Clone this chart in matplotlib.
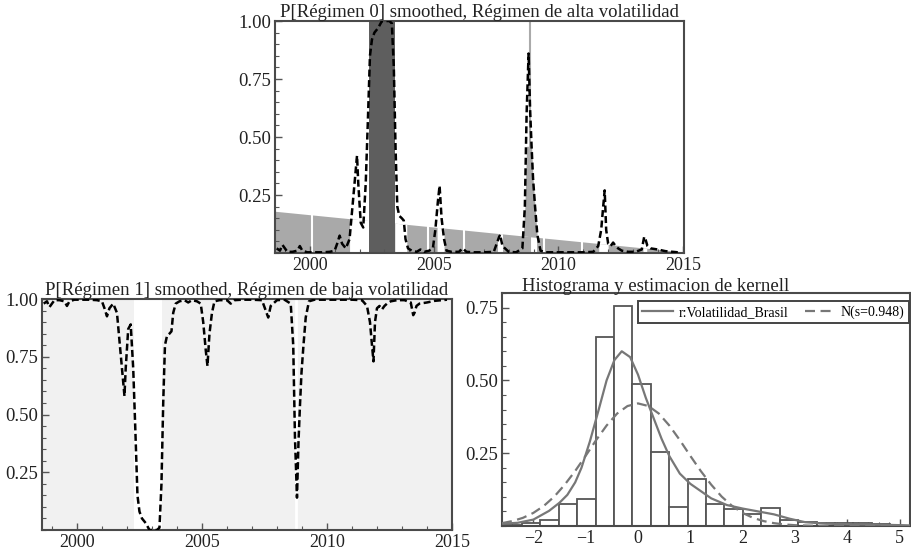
import numpy as np
import matplotlib
matplotlib.use("Agg")
import matplotlib.pyplot as plt
from matplotlib.ticker import MultipleLocator, FixedLocator, FormatStrFormatter
from matplotlib.lines import Line2D

plt.rcParams['font.family'] = ['Liberation Serif', 'DejaVu Serif']

# ---------------- data ----------------
years = [1998.67, 1998.8, 1998.9, 1999.0, 1999.1, 1999.3, 1999.5, 1999.6, 1999.7, 1999.9,
         2000.2, 2000.5, 2000.8, 2001.0, 2001.1, 2001.2, 2001.3, 2001.45, 2001.6, 2001.7,
         2001.8, 2001.9, 2001.95, 2002.05, 2002.15, 2002.25, 2002.33, 2002.42, 2002.5, 2002.6,
         2002.75, 2002.9, 2003.0, 2003.1, 2003.2, 2003.3, 2003.38, 2003.45, 2003.52, 2003.6,
         2003.7, 2003.78, 2003.85, 2003.95, 2004.1, 2004.3, 2004.45, 2004.6, 2004.8, 2004.95,
         2005.05, 2005.15, 2005.22, 2005.3, 2005.4, 2005.5, 2005.7, 2006.0, 2006.15, 2006.3,
         2006.6, 2007.0, 2007.4, 2007.55, 2007.65, 2007.75, 2008.0, 2008.3, 2008.55, 2008.65,
         2008.72, 2008.8, 2008.86, 2008.92, 2008.98, 2009.06, 2009.15, 2009.28, 2009.5, 2010.0,
         2010.5, 2011.0, 2011.4, 2011.6, 2011.72, 2011.8, 2011.86, 2011.92, 2012.0, 2012.1,
         2012.2, 2012.3, 2012.4, 2012.55, 2012.8, 2013.1, 2013.35, 2013.45, 2013.5, 2013.58,
         2013.7, 2014.0, 2014.3, 2014.6, 2014.8]
p_reg0 = [0.02, 0.01, 0.035, 0.02, 0.005, 0.005, 0.01, 0.03, 0.01, 0.003,
          0.003, 0.003, 0.005, 0.01, 0.04, 0.075, 0.04, 0.02, 0.06, 0.18,
          0.30, 0.42, 0.30, 0.13, 0.11, 0.30, 0.55, 0.85, 0.92, 0.95,
          0.97, 1.0, 1.0, 1.0, 1.0, 0.99, 0.80, 0.45, 0.20, 0.16,
          0.15, 0.14, 0.06, 0.02, 0.01, 0.005, 0.015, 0.005, 0.01, 0.02,
          0.10, 0.22, 0.29, 0.15, 0.06, 0.01, 0.005, 0.005, 0.02, 0.005,
          0.003, 0.003, 0.005, 0.05, 0.08, 0.03, 0.005, 0.003, 0.02, 0.20,
          0.60, 0.86, 0.62, 0.46, 0.32, 0.20, 0.08, 0.01, 0.003, 0.003,
          0.003, 0.003, 0.005, 0.03, 0.10, 0.20, 0.27, 0.10, 0.04, 0.03,
          0.045, 0.03, 0.02, 0.01, 0.005, 0.005, 0.015, 0.07, 0.06, 0.03,
          0.02, 0.015, 0.008, 0.005, 0.003]
# smoothed probability of regime 1 = complement of regime 0
p_reg1 = [1.0 - v for v in p_reg0]

band_x = [1998.6, 2015.0]
band_y = [0.18, 0.005]
high_vol_span = (2002.38, 2003.42)
crisis_line = 2008.85
white_gaps = [(2001.6, 2002.38), (2003.42, 2003.9), (2005.12, 2005.4),
              (2007.55, 2007.75), (2008.85, 2009.12), (2011.62, 2012.0), (2013.4, 2013.55)]
white_lines = [2000.1, 2004.75, 2006.2, 2009.4, 2010.95]

hist_edges = [-2.57, -2.218, -1.866, -1.514, -1.162, -0.81, -0.458, -0.106, 0.246, 0.598,
              0.95, 1.302, 1.654, 2.006, 2.358, 2.71, 3.062, 3.414, 3.766, 4.118, 4.47, 4.822]
hist_heights = [0.005, 0.012, 0.02, 0.075, 0.093, 0.65, 0.755, 0.489, 0.254, 0.064,
                0.163, 0.074, 0.06, 0.042, 0.063, 0.02, 0.015, 0.01, 0.01, 0.01, 0.007]

kde_x = [-2.6, -2.3, -2.0, -1.7, -1.5, -1.35, -1.2, -1.08, -0.92, -0.75, -0.6, -0.45, -0.31,
         -0.15, 0.0, 0.15, 0.3, 0.45, 0.6, 0.8, 1.0, 1.2, 1.4, 1.7, 2.0, 2.3, 2.6, 2.9,
         3.2, 3.6, 4.0, 4.5, 5.0, 5.2]
kde_y = [0.008, 0.011, 0.022, 0.052, 0.08, 0.107, 0.15, 0.20, 0.29, 0.40, 0.50, 0.57, 0.60,
         0.58, 0.52, 0.44, 0.37, 0.30, 0.24, 0.18, 0.145, 0.12, 0.095, 0.072, 0.06, 0.05, 0.04,
         0.025, 0.013, 0.008, 0.006, 0.005, 0.003, 0.002]
norm_x = [-2.6, -2.4, -2.2, -2.0, -1.8, -1.6, -1.4, -1.2, -1.0, -0.8, -0.6, -0.4, -0.2, 0.0,
          0.2, 0.4, 0.6, 0.8, 1.0, 1.2, 1.4, 1.6, 1.8, 2.0, 2.2, 2.4, 2.6, 2.8, 3.0, 3.4,
          4.0, 5.2]
norm_y = [0.0098, 0.017, 0.028, 0.045, 0.069, 0.101, 0.142, 0.189, 0.241, 0.295, 0.345,
          0.386, 0.412, 0.421, 0.412, 0.386, 0.345, 0.295, 0.241, 0.189, 0.142, 0.101,
          0.069, 0.045, 0.028, 0.017, 0.0098, 0.0054, 0.0028, 0.0006, 0.0, 0.0]

# ---------------- figure ----------------
FRAME = '#4a4a4a'
TXT = '#222222'
TITLE_FS = 13.5
fig = plt.figure(figsize=(9.12, 5.53), dpi=100)
ax1 = fig.add_axes([0.3015, 0.5425, 0.4485, 0.4195])
ax2 = fig.add_axes([0.046, 0.0416, 0.4496, 0.4177])
ax3 = fig.add_axes([0.5504, 0.0488, 0.4474, 0.4213])


def style(ax):
    for s in ax.spines.values():
        s.set_color(FRAME)
        s.set_linewidth(1.5)
    ax.tick_params(which='both', direction='in', colors='#555555', labelcolor=TXT,
                   top=False, right=False)
    ax.tick_params(which='major', length=5, width=1.0)
    ax.tick_params(which='minor', length=3, width=0.8)
    ax.tick_params(axis='x', pad=3, labelsize=13)
    ax.tick_params(axis='y', pad=3, labelsize=13.5)


DASH = dict(color='black', lw=1.8, dashes=(2.8, 1.4))

# --- top panel ---
yr = np.array(years)
p0 = np.array(p_reg0)
ax1.fill_between(band_x, 0, band_y, color='#a9a9a9', lw=0, zorder=1)
for a, b in white_gaps:
    ax1.fill_between([a, b], 0, [np.interp(a, band_x, band_y), np.interp(b, band_x, band_y)],
                     color='white', lw=0, zorder=1.2)
for xl in white_lines:
    ax1.plot([xl, xl], [0, np.interp(xl, band_x, band_y)], color='white', lw=1.5, zorder=1.3)
band_at = np.interp(yr, band_x, band_y)
mask = (yr >= 2008.6) & (yr <= 2009.1)
ax1.fill_between(yr, band_at, np.minimum(p0, 0.46), where=mask & (p0 > band_at),
                 color='#a9a9a9', lw=0, zorder=1.4, interpolate=True)
ax1.axvspan(*high_vol_span, color='#5e5e5e', lw=0, zorder=1.5)
ax1.axvline(crisis_line, color='#aaaaaa', lw=1.5, zorder=1.5)
ax1.plot(years, p_reg0, zorder=3, **DASH)
ax1.set_xlim(1998.6, 2015.05)
ax1.set_ylim(0, 1.0)
ax1.set_title('P[Régimen 0] smoothed, Régimen de alta volatilidad', fontsize=TITLE_FS,
              color=TXT, pad=2)

# --- bottom-left panel ---
ax2.set_facecolor('#f1f1f1')
ax2.axvspan(2002.3, 2003.4, color='white', lw=0, zorder=0.5)
ax2.axvline(2008.75, color='white', lw=2, zorder=0.5)
ax2.plot(years, p_reg1, zorder=3, **DASH)
ax2.set_xlim(1998.6, 2015.0)
ax2.set_ylim(0, 1.0)
ax2.set_title('P[Régimen 1] smoothed, Régimen de baja volatilidad', fontsize=TITLE_FS,
              color=TXT, pad=0.5)

for ax in (ax1, ax2):
    style(ax)
    ax.xaxis.set_major_locator(FixedLocator([2000, 2005, 2010, 2015]))
    ax.xaxis.set_major_formatter(FormatStrFormatter('%d'))
    ax.xaxis.set_minor_locator(MultipleLocator(1))
    ax.yaxis.set_major_locator(FixedLocator([0.25, 0.5, 0.75, 1.0]))
    ax.yaxis.set_major_formatter(FormatStrFormatter('%.2f'))
    ax.yaxis.set_minor_locator(MultipleLocator(0.05))

# --- histogram panel ---
widths = np.diff(hist_edges)
ax3.bar(hist_edges[:-1], hist_heights, width=widths, align='edge', facecolor='white',
        edgecolor='#555555', lw=1.3, zorder=2)
ax3.plot(kde_x, kde_y, color='#777777', lw=1.6, zorder=3)
ax3.plot(norm_x, norm_y, color='#777777', lw=1.6, dashes=(4.5, 2.5), zorder=3)
ax3.set_xlim(-2.6, 5.2)
ax3.set_ylim(0, 0.8)
style(ax3)
ax3.xaxis.set_major_locator(FixedLocator([-2, -1, 0, 1, 2, 3, 4, 5]))
ax3.xaxis.set_minor_locator(MultipleLocator(0.2))
ax3.yaxis.set_major_locator(FixedLocator([0.25, 0.5, 0.75]))
ax3.yaxis.set_major_formatter(FormatStrFormatter('%.2f'))
ax3.yaxis.set_minor_locator(MultipleLocator(0.05))
ax3.text(0.048, 1.008, 'Histograma y estimacion de kernell', transform=ax3.transAxes,
         ha='left', va='baseline', fontsize=TITLE_FS, color=TXT)
handles = [Line2D([], [], color='#777777', lw=1.6),
           Line2D([], [], color='#777777', lw=1.6, dashes=(4.5, 2.5))]
leg = ax3.legend(handles, ['r:Volatilidad_Brasil', 'N(s=0.948)'], loc='upper right',
                 bbox_to_anchor=(0.997, 0.965), ncol=2, fontsize=10, borderaxespad=0,
                 handlelength=2.2, columnspacing=1.2, handletextpad=0.4,
                 fancybox=False, framealpha=1, borderpad=0.3)
leg.get_frame().set_edgecolor('#444444')
leg.get_frame().set_linewidth(1.4)

fig.savefig('out.png', dpi=100)
